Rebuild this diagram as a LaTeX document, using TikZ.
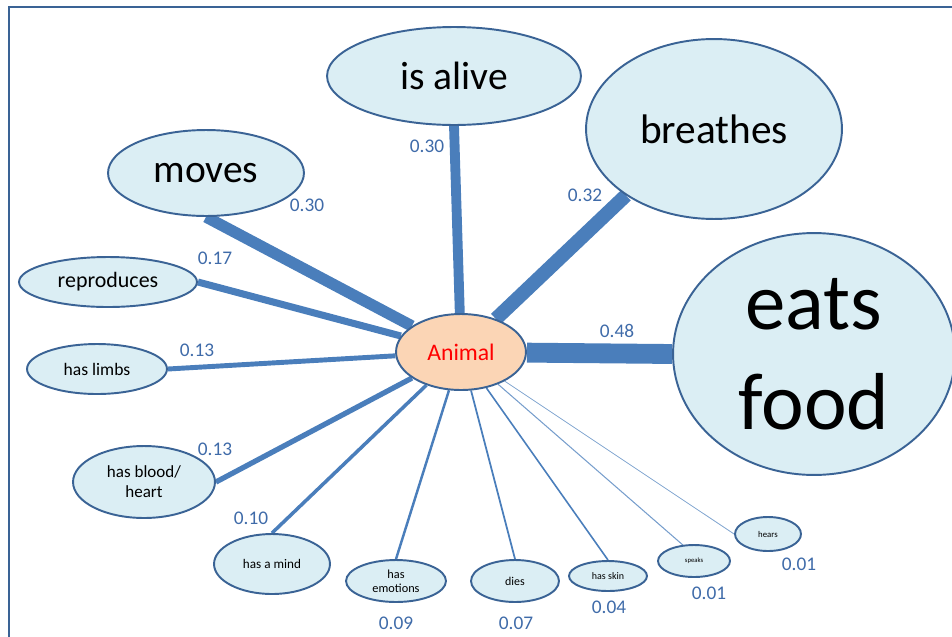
\documentclass[tikz,border=0pt]{standalone}
\usepackage{fontspec}
\setmainfont{Carlito}
\usetikzlibrary{shapes.geometric, backgrounds}

\definecolor{rimblue}{HTML}{3A6395}
\definecolor{linkblue}{HTML}{4A7EBB}
\definecolor{numblue}{HTML}{3F6BA9}
\definecolor{bubblefill}{HTML}{DBEEF4}
\definecolor{peach}{HTML}{FBD5B5}

\begin{document}
\begin{tikzpicture}[x=0.02cm, y=-0.02cm,
	bubble/.style 2 args={ellipse, draw=rimblue, line width=1.1pt, fill=bubblefill, inner sep=0pt,
		minimum width=#1*0.04cm, minimum height=#2*0.04cm, align=center},
	weight/.style={text=numblue, font=\fontsize{11}{13}\selectfont},
	link/.style={draw=linkblue, line width=#1}]
	\useasboundingbox (0,0) rectangle (952,636);
	\draw[rimblue, line width=1pt] (9,640) -- (9,7) -- (956,7);

	% centre
	\node[bubble={65}{38}, fill=peach, text=red, font=\fontsize{13.5}{16}\selectfont] (animal) at (461,352) {Animal};

	% features
	\node[bubble={127}{49}, font=\fontsize{22.5}{27}\selectfont] (alive) at (454,76) {is alive};
	\node[bubble={128}{90}, font=\fontsize{23.5}{28}\selectfont] (breathes) at (714,129) {breathes};
	\node[bubble={141}{121}, font=\fontsize{46}{57}\selectfont] (eats) at (814,354) {eats\\food};
	\node[bubble={98}{43}, font=\fontsize{22.5}{27}\selectfont] (moves) at (206,173) {moves};
	\node[bubble={89}{25}, font=\fontsize{12.5}{15}\selectfont] (repro) at (108,282) {reproduces};
	\node[bubble={70}{25}, font=\fontsize{10}{12}\selectfont] (limbs) at (97,369) {has limbs};
	\node[bubble={71}{36}, font=\fontsize{9.7}{11.3}\selectfont] (blood) at (144,482) {has blood/\\heart};
	\node[bubble={58}{30}, font=\fontsize{7.5}{9}\selectfont] (mind) at (272,564) {has a mind};
	\node[bubble={50}{21}, font=\fontsize{7}{8}\selectfont] (emotions) at (396,581) {has\\emotions};
	\node[bubble={44}{21}, font=\fontsize{6.8}{8}\selectfont] (dies) at (515,581) {dies};
	\node[bubble={39}{15}, font=\fontsize{5.7}{7}\selectfont] (skin) at (608,576) {has skin};
	\node[bubble={36}{16}, font=\fontsize{3.8}{5}\selectfont] (speaks) at (694,561) {speaks};
	\node[bubble={33}{17}, font=\fontsize{5}{6}\selectfont] (hears) at (768,534) {hears};

	% links, width = weight
	\begin{scope}[on background layer]
		\draw[link=6.5pt] (animal) -- (moves.south);
		\draw[link=5.6pt] (animal) -- (alive.south);
		\draw[link=8pt] (animal) -- (breathes.217);
		\draw[link=11.3pt] (animal) -- (eats.west);
		\draw[link=4pt] (animal) -- (repro.east);
		\draw[link=2.8pt] (animal) -- (limbs.east);
		\draw[link=3pt] (animal) -- (blood.east);
		\draw[link=2pt] (animal) -- (mind.north);
		\draw[link=1.4pt] (animal) -- (emotions.north);
		\draw[link=1pt] (animal) -- (dies.north);
		\draw[link=0.9pt] (animal) -- (skin.north);
		\draw[link=0.6pt, linkblue!75] (animal) -- (speaks.125);
		\draw[link=0.45pt, linkblue!70] (animal) -- (hears.west);
	\end{scope}

	% weights
	\node[weight] (wmoves) at (307,205) {0.30};
	\node[weight] (walive) at (427,146) {0.30};
	\node[weight] (wbreathes) at (585,195) {0.32};
	\node[weight] (weats) at (617,331) {0.48};
	\node[weight] (wrepro) at (215,258) {0.17};
	\node[weight] (wlimbs) at (197,350) {0.13};
	\node[weight] (wblood) at (215,449) {0.13};
	\node[weight] (wmind) at (251,518) {0.10};
	\node[weight] (wemotions) at (396,623) {0.09};
	\node[weight] (wdies) at (516,623) {0.07};
	\node[weight] (wskin) at (609,607) {0.04};
	\node[weight] (wspeaks) at (709,593) {0.01};
	\node[weight] (whears) at (799,564) {0.01};
\end{tikzpicture}
\end{document}
